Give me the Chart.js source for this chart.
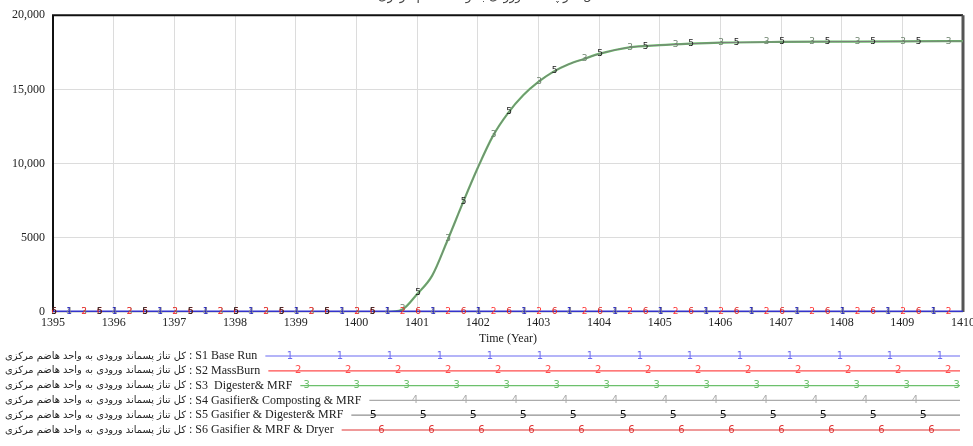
<!DOCTYPE html>
<html>
<head>
<meta charset="utf-8">
<script src="https://cdn.jsdelivr.net/npm/chart.js@4.4.1/dist/chart.umd.min.js"></script>
<style>
    html, body { margin: 0; padding: 0; background: #fff; }
    canvas { display: block; }
</style>
</head>
<body>
<canvas id="chart" width="973" height="446"></canvas>
<script>
// Time axis (years) and the six scenario runs
const years = [1395, 1396, 1397, 1398, 1399, 1400, 1400.5, 1400.75, 1401, 1401.25, 1401.5, 1401.75,
    1402, 1402.25, 1402.5, 1402.75, 1403, 1403.25, 1403.5, 1403.75, 1404, 1404.5, 1405, 1405.5,
    1406, 1407, 1408, 1409, 1410];
const s1BaseRun = [0, 0, 0, 0, 0, 0, 0, 0, 0, 0, 0, 0, 0, 0, 0, 0, 0, 0, 0, 0, 0, 0, 0, 0, 0, 0, 0, 0, 0];
const s2MassBurn = [0, 0, 0, 0, 0, 0, 0, 0, 0, 0, 0, 0, 0, 0, 0, 0, 0, 0, 0, 0, 0, 0, 0, 0, 0, 0, 0, 0, 0];
const s3Digester = [0, 0, 0, 0, 0, 0, 0, 150, 1200, 2450, 4800, 7300, 9700, 11850, 13400, 14600,
    15500, 16200, 16700, 17050, 17390, 17830, 17980, 18080, 18150, 18200, 18220, 18240, 18250];
const s4Composting = [0, 0, 0, 0, 0, 0, 0, 0, 0, 0, 0, 0, 0, 0, 0, 0, 0, 0, 0, 0, 0, 0, 0, 0, 0, 0, 0, 0, 0];
const s5GasDigester = [0, 0, 0, 0, 0, 0, 0, 150, 1200, 2450, 4800, 7300, 9700, 11850, 13400, 14600,
    15500, 16200, 16700, 17050, 17390, 17830, 17980, 18080, 18150, 18200, 18220, 18240, 18250];
const s6Dryer = [0, 0, 0, 0, 0, 0, 0, 0, 0, 0, 0, 0, 0, 0, 0, 0, 0, 0, 0, 0, 0, 0, 0, 0, 0, 0, 0, 0, 0];

const yTicks = [0, 5000, 10000, 15000, 20000];
const varName = 'کل تناژ پسماند ورودی به واحد هاضم مرکزی';
const runNames = ['S1 Base Run', 'S2 MassBurn', 'S3  Digester& MRF', 'S4 Gasifier& Composting & MRF',
    'S5 Gasifier & Digester& MRF', 'S6 Gasifier & MRF & Dryer'];

// styling per run
const runSeries = [s1BaseRun, s2MassBurn, s3Digester, s4Composting, s5GasDigester, s6Dryer];
const lineColors = ['#3434cc', '#ff4545', '#66bb66', '#a9a9a9', '#7c7c7c', '#e02c2c'];
const legendColors = ['#6b6bf2', '#ff4d4d', '#6cc06c', '#ababab', '#8f8f8f', '#e03434'];
const markColors = ['#2525c0', '#ff3030', '#6a7f6a', '#8a8a8a', '#1a1a1a', '#e02020'];
const lineWidths = [3, 1, 2.2, 1, 1, 1];
const drawOrder = [-2, 0, 1, 0, -1, 0];      // lower is drawn on top
const markOffsets = [16, 31, 31, 16, 1, 1];   // px phase of the number markers
const markGap = 45.5;

const datasets = runSeries.map((vals, i) => ({
    label: runNames[i],
    data: vals.map((v, k) => ({ x: years[k], y: v })),
    borderColor: lineColors[i],
    borderWidth: lineWidths[i],
    order: drawOrder[i],
    pointRadius: 0,
    cubicInterpolationMode: 'monotone',
    fill: false
}));

// frame around the plot like the Vensim output
const framePlugin = {
    id: 'frame',
    beforeDatasetsDraw(chart) {
        const { ctx, chartArea: a } = chart;
        ctx.save();
        ctx.strokeStyle = '#111';
        ctx.lineWidth = 2;
        ctx.beginPath();
        ctx.moveTo(a.left, a.bottom);
        ctx.lineTo(a.left, a.top);
        ctx.lineTo(a.right, a.top);
        ctx.stroke();
        ctx.strokeStyle = '#555';
        ctx.lineWidth = 3;
        ctx.beginPath();
        ctx.moveTo(a.right, a.top);
        ctx.lineTo(a.right, a.bottom);
        ctx.stroke();
        ctx.restore();
    }
};

// number markers along each run, placed on the drawn line
const markersPlugin = {
    id: 'markers',
    afterDatasetsDraw(chart) {
        const { ctx, chartArea: a } = chart;
        ctx.save();
        ctx.font = '9px "DejaVu Sans"';
        ctx.textAlign = 'center';
        ctx.textBaseline = 'middle';
        for (let i = runSeries.length - 1; i >= 0; i--) {
            const pts = chart.getDatasetMeta(i).data;
            ctx.fillStyle = markColors[i];
            for (let x = a.left + markOffsets[i]; x < a.right - 2; x += markGap) {
                let k = 0;
                while (k < pts.length - 2 && pts[k + 1].x < x) k++;
                const p0 = pts[k], p1 = pts[k + 1];
                const t = (x - p0.x) / (p1.x - p0.x);
                const y = p0.y + (p1.y - p0.y) * t;
                ctx.fillText(String(i + 1), x, y);
            }
        }
        ctx.restore();
    }
};

// clipped title and the Vensim style legend underneath
const legendPlugin = {
    id: 'vensimLegend',
    afterDraw(chart) {
        const { ctx } = chart;
        ctx.save();
        ctx.fillStyle = '#444';
        ctx.font = '12px "DejaVu Sans"';
        ctx.textAlign = 'center';
        ctx.textBaseline = 'alphabetic';
        ctx.fillText(varName, 488, 0);

        ctx.textBaseline = 'middle';
        ctx.textAlign = 'left';
        ctx.font = '11px "DejaVu Sans"';
        const fa = 11 * 181 / ctx.measureText(varName).width;
        runNames.forEach((name, i) => {
            const y = 356 + i * 14.8;
            ctx.fillStyle = '#222';
            ctx.font = fa.toFixed(2) + 'px "DejaVu Sans"';
            ctx.fillText(varName, 5, y);
            ctx.font = '12px "Liberation Serif"';
            const label = ' : ' + name;
            ctx.fillText(label, 186, y);
            const lineStart = 186 + ctx.measureText(label).width + 8;
            ctx.strokeStyle = legendColors[i];
            ctx.lineWidth = 1.2;
            ctx.beginPath();
            ctx.moveTo(lineStart, y);
            ctx.lineTo(960, y);
            ctx.stroke();
            ctx.fillStyle = i === 4 ? '#111' : legendColors[i];
            ctx.font = (i === 4 ? '11px' : '10px') + ' "DejaVu Sans"';
            ctx.textAlign = 'center';
            for (let x = 290 + i * 8.3; x < 962; x += 50) {
                if (x > lineStart + 5) ctx.fillText(String(i + 1), x, y);
            }
            ctx.textAlign = 'left';
        });
        ctx.restore();
    }
};

new Chart(document.getElementById('chart'), {
    type: 'line',
    data: { datasets: datasets },
    options: {
        responsive: false,
        animation: false,
        layout: { padding: { top: 13, right: 10, bottom: 100, left: 0 } },
        plugins: {
            legend: { display: false },
            tooltip: { enabled: false }
        },
        scales: {
            x: {
                type: 'linear',
                min: 1395,
                max: 1410,
                afterFit(scale) {
                    scale.height = 34;
                    scale.paddingLeft = 0;
                    scale.paddingRight = 0;
                },
                grid: { color: '#dcdcdc', drawTicks: false },
                border: { display: false },
                ticks: {
                    stepSize: 1,
                    padding: 4,
                    maxRotation: 0,
                    autoSkip: false,
                    color: '#222',
                    font: { family: '"Liberation Serif"', size: 12 },
                    callback: v => String(v)
                },
                title: {
                    display: true,
                    text: 'Time (Year)',
                    color: '#222',
                    padding: { top: 0, bottom: 0 },
                    font: { family: '"Liberation Serif"', size: 12 }
                }
            },
            y: {
                min: 0,
                max: 20000,
                afterFit(scale) { scale.width = 53; },
                afterBuildTicks(scale) { scale.ticks = yTicks.map(v => ({ value: v })); },
                grid: { color: '#dcdcdc', drawTicks: false },
                border: { display: false },
                ticks: {
                    padding: 8,
                    color: '#222',
                    font: { family: '"Liberation Serif"', size: 12 },
                    callback: v => v >= 10000 ? v.toLocaleString('en-US') : String(v)
                }
            }
        }
    },
    plugins: [framePlugin, markersPlugin, legendPlugin]
});
</script>
</body>
</html>
